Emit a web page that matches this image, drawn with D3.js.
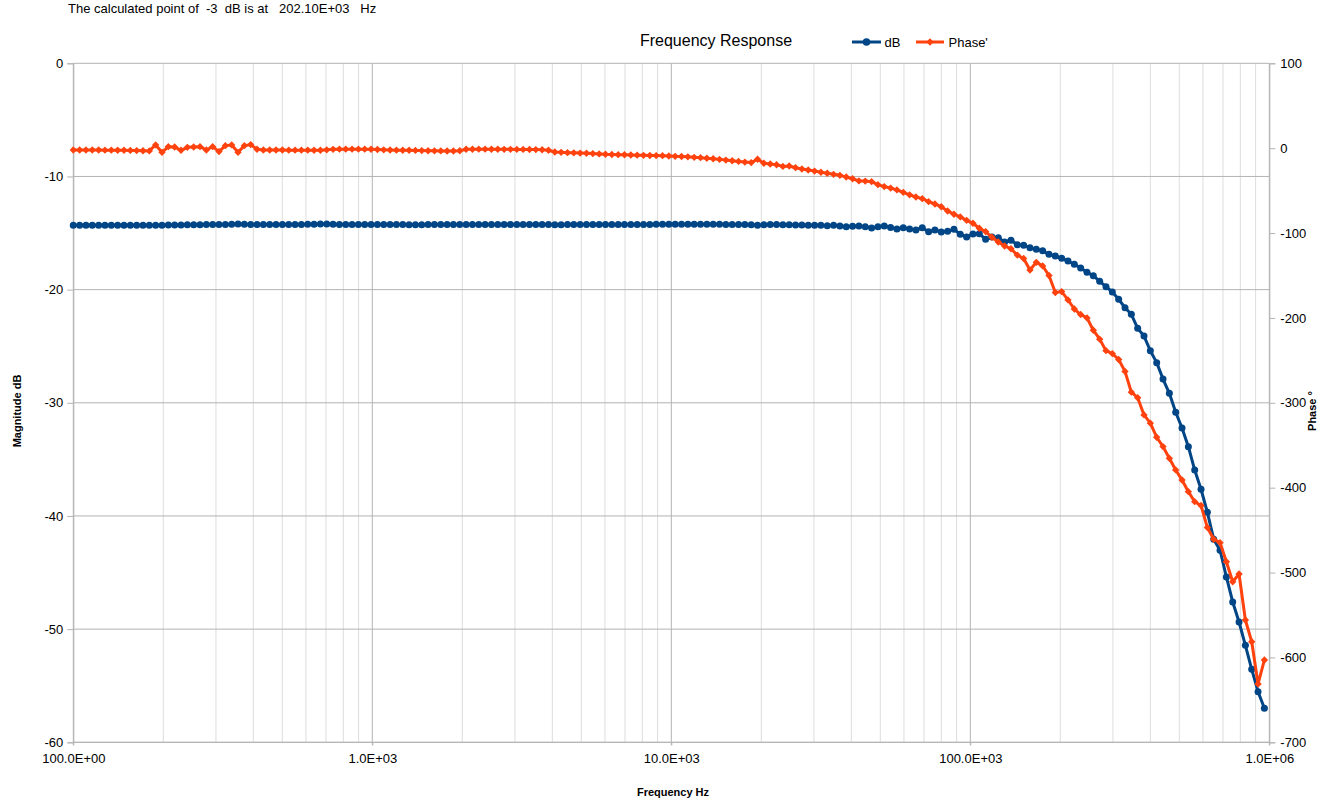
<!DOCTYPE html>
<html><head><meta charset="utf-8">
<script src="https://cdn.jsdelivr.net/npm/d3@7"></script>
<style>
body{margin:0;background:#fff}
svg text{font-family:"Liberation Sans",Arial,sans-serif}
</style>
</head><body>
<svg id="chart" width="1325" height="805"></svg>
<script>
// ---------------- data ----------------
const frequencyHz = [
100,105,110.25,115.76,121.55,127.63,134.01,140.71,147.75,155.13,
162.89,171.03,179.59,188.56,197.99,207.89,218.29,229.2,240.66,252.69,
265.33,278.6,292.53,307.15,322.51,338.64,355.57,373.35,392.02,411.62,
432.19,453.8,476.49,500.32,525.33,551.6,579.18,608.14,638.55,670.48,
704,739.2,776.2,815,855.7,898.5,943.4,990.6,1040.1,1092.1,
1146.7,1204.1,1264.3,1327.5,1393.9,1463.6,1536.7,1613.6,1694.3,1778.9,
1867.9,1961.3,2059.4,2162.4,2270.5,2384,2503.2,2628.4,2759.8,2897.8,
3042.6,3194.8,3354.5,3522.2,3698.4,3883.3,4077.4,4281.3,4495.4,4720.1,
4956.1,5203.9,5464.1,5737.3,6024.2,6325.4,6641.7,6973.8,7322.5,7688.6,
8073,8476.7,8900.5,9345.5,9812.8,10303,10819,11360,11928,12524,
13150,13808,14498,15223,15984,16783,17622,18504,19429,20400,
21420,22491,23616,24797,26036,27338,28705,30140,31647,33230,
34891,36636,38468,40391,42410,44531,46758,49096,51550,54128,
56834,59676,62660,65793,69082,72536,76163,79971,83970,88168,
92577,97205,102066,107169,112527,118154,124062,130265,136778,143617,
150798,158337,166254,174567,183296,192460,202083,212188,222797,233937,
245634,257915,270811,284352,298569,313498,329172,345631,362913,381059,
400111,420117,441123,463179,486338,510655,536187,562997,591147,620704,
651739,684326,718542,754469,792193,831802,873392,917062,962915
];
const magnitudeDb = [
-14.30,-14.30,-14.30,-14.30,-14.30,-14.30,-14.30,-14.30,-14.30,-14.30,
-14.30,-14.30,-14.30,-14.30,-14.30,-14.29,-14.28,-14.28,-14.27,-14.27,
-14.26,-14.25,-14.25,-14.24,-14.24,-14.22,-14.20,-14.22,-14.24,-14.25,
-14.25,-14.25,-14.24,-14.24,-14.25,-14.25,-14.24,-14.23,-14.22,-14.20,
-14.20,-14.22,-14.24,-14.25,-14.25,-14.25,-14.25,-14.25,-14.25,-14.25,
-14.25,-14.25,-14.25,-14.26,-14.26,-14.26,-14.25,-14.25,-14.25,-14.25,
-14.25,-14.25,-14.24,-14.24,-14.24,-14.25,-14.25,-14.25,-14.25,-14.25,
-14.25,-14.25,-14.24,-14.24,-14.25,-14.25,-14.26,-14.26,-14.25,-14.25,
-14.25,-14.25,-14.24,-14.24,-14.24,-14.24,-14.24,-14.24,-14.24,-14.24,
-14.24,-14.24,-14.23,-14.23,-14.23,-14.23,-14.23,-14.23,-14.23,-14.23,
-14.23,-14.23,-14.23,-14.24,-14.24,-14.24,-14.25,-14.26,-14.30,-14.26,
-14.25,-14.25,-14.26,-14.27,-14.28,-14.28,-14.30,-14.30,-14.32,-14.35,
-14.30,-14.38,-14.45,-14.40,-14.38,-14.45,-14.55,-14.45,-14.38,-14.50,
-14.65,-14.53,-14.64,-14.73,-14.53,-14.88,-14.73,-14.90,-14.85,-14.67,
-15.11,-15.35,-15.08,-15.06,-15.55,-15.35,-15.41,-15.79,-15.64,-16.03,
-16.08,-16.29,-16.44,-16.56,-16.88,-17.03,-17.23,-17.47,-17.76,-18.09,
-18.47,-18.77,-19.26,-19.74,-20.21,-20.85,-21.60,-22.18,-23.42,-24.10,
-25.40,-26.45,-27.90,-29.16,-30.84,-32.23,-33.88,-35.94,-37.64,-39.68,
-42.05,-43.03,-45.39,-47.60,-49.37,-51.43,-53.55,-55.53,-56.99
];
const phaseDeg = [
-2.1,-2.1,-2.1,-2.2,-2.2,-2.3,-2.3,-2.4,-2.5,-2.6,
-2.8,-3.0,-3.2,3.8,-4.9,1.8,1.4,-2.5,1.0,1.4,
1.8,-2.1,1.8,-4.0,3.0,3.8,-4.9,3.0,4.2,-1.3,
-2.1,-2.2,-2.2,-2.2,-2.3,-2.3,-2.3,-2.3,-2.4,-2.4,
-2.0,-1.4,-1.2,-1.2,-1.2,-1.2,-1.2,-1.3,-1.6,-2.0,
-2.2,-2.3,-2.4,-2.5,-2.6,-2.8,-3.0,-3.1,-3.2,-3.3,
-3.3,-3.0,-1.3,-1.3,-1.2,-1.2,-1.3,-1.3,-1.4,-1.4,
-1.5,-1.5,-1.6,-1.7,-1.8,-2.5,-4.5,-4.9,-5.3,-5.5,
-5.8,-6.0,-6.4,-6.8,-7.2,-7.4,-7.6,-7.8,-8.0,-8.2,
-8.4,-8.6,-8.7,-8.8,-9.2,-9.6,-9.8,-10.2,-10.8,-11.2,
-11.9,-12.5,-13.2,-14.0,-14.8,-15.6,-16.4,-17.0,-13.1,-17.8,
-18.6,-19.5,-21.5,-21.0,-23.0,-24.5,-25.7,-27.0,-28.4,-29.5,
-30.8,-32.0,-34.0,-36.0,-38.6,-38.8,-39.5,-43.0,-45.3,-47.0,
-49.2,-52.0,-55.0,-57.5,-59.5,-63.0,-65.8,-69.0,-74.0,-77.8,
-81.0,-85.0,-88.5,-94.3,-98.3,-105.0,-110.5,-115.2,-118.5,-126.0,
-130.0,-143.5,-134.5,-138.7,-150.0,-170.0,-169.0,-178.8,-189.5,-196.0,
-200.0,-214.5,-225.0,-238.6,-242.0,-249.0,-263.0,-287.5,-294.0,-314.3,
-324.0,-340.6,-351.6,-365.4,-379.1,-391.0,-404.7,-416.5,-421.0,-447.0,
-460.8,-464.8,-487.2,-510.8,-501.7,-555.9,-581.5,-631.3,-603.0
];
const xTickValues = [100, 1e3, 1e4, 1e5, 1e6];
const xTickLabels = ["100.0E+00", "1.0E+03", "10.0E+03", "100.0E+03", "1.0E+06"];
const dbTicks = [0, -10, -20, -30, -40, -50, -60];
const phaseTicks = [100, 0, -100, -200, -300, -400, -500, -600, -700];
const minorMultipliers = [2, 3, 4, 5, 6, 7, 8, 9];
const seriesNames = ["dB", "Phase'"];
const headerText = "The calculated point of  -3  dB is at   202.10E+03   Hz";
const titleText = "Frequency Response";

// ---------------- layout ----------------
const L = 73.3, R = 1269.3, T = 63.3, B = 742.3;
const blue = "#004586", orange = "#ff420e";
const gridMajor = "#b3b3b3", gridMinor = "#dddddd";

const svg = d3.select("#chart");
const x = d3.scaleLog().domain([100, 1e6]).range([L, R]);
const yL = d3.scaleLinear().domain([-60, 0]).range([B, T]);
const yR = d3.scaleLinear().domain([-700, 100]).range([B, T]);

const rows = frequencyHz.map((f, i) => ({ f, db: magnitudeDb[i], ph: phaseDeg[i] }));

// minor vertical grid
const minorVals = [];
xTickValues.slice(0, -1).forEach(d => minorMultipliers.forEach(m => minorVals.push(d * m)));
svg.append("g").selectAll("line").data(minorVals).join("line")
  .attr("x1", d => x(d)).attr("x2", d => x(d)).attr("y1", T).attr("y2", B)
  .attr("stroke", gridMinor).attr("stroke-width", 1);

// major vertical grid
svg.append("g").selectAll("line").data(xTickValues).join("line")
  .attr("x1", d => x(d)).attr("x2", d => x(d)).attr("y1", T).attr("y2", B + 3)
  .attr("stroke", gridMajor).attr("stroke-width", 1);

// horizontal grid
svg.append("g").selectAll("line").data(dbTicks).join("line")
  .attr("x1", L).attr("x2", R).attr("y1", d => yL(d)).attr("y2", d => yL(d))
  .attr("stroke", gridMajor).attr("stroke-width", 1);

// left axis
const axL = svg.append("g").attr("transform", `translate(${L},0)`)
  .call(d3.axisLeft(yL).tickValues(dbTicks).tickSize(6).tickPadding(4).tickFormat(d => String(d)));
// right axis
const axR = svg.append("g").attr("transform", `translate(${R},0)`)
  .call(d3.axisRight(yR).tickValues(phaseTicks).tickSize(6).tickPadding(5).tickFormat(d => String(d)));
// bottom axis
const axB = svg.append("g").attr("transform", `translate(0,${B})`)
  .call(d3.axisBottom(x).tickValues(xTickValues).tickSize(3).tickPadding(8)
    .tickFormat((d, i) => xTickLabels[i]));
[axL, axR, axB].forEach(g => {
  g.select(".domain").attr("stroke", gridMajor);
  g.selectAll(".tick line").attr("stroke", gridMajor);
  g.selectAll(".tick text").attr("fill", "#000").style("font-size", "13px")
    .style("font-family", '"Liberation Sans",Arial,sans-serif');
});
axB.select(".domain").remove();
svg.append("line").attr("x1", L).attr("x2", R).attr("y1", B).attr("y2", B).attr("stroke", gridMajor);

// series
const lineDb = d3.line().x(d => x(d.f)).y(d => yL(d.db));
const linePh = d3.line().x(d => x(d.f)).y(d => yR(d.ph));

svg.append("path").datum(rows).attr("d", lineDb)
  .attr("fill", "none").attr("stroke", blue).attr("stroke-width", 3).attr("stroke-linejoin", "round");
svg.append("g").selectAll("circle").data(rows).join("circle")
  .attr("cx", d => x(d.f)).attr("cy", d => yL(d.db)).attr("r", 3.5).attr("fill", blue);

const diamond = d3.symbol().type(d3.symbolSquare).size(27);
svg.append("path").datum(rows).attr("d", linePh)
  .attr("fill", "none").attr("stroke", orange).attr("stroke-width", 3).attr("stroke-linejoin", "round");
svg.append("g").selectAll("path").data(rows).join("path")
  .attr("d", diamond).attr("transform", d => `translate(${x(d.f)},${yR(d.ph)}) rotate(45)`).attr("fill", orange);

// texts
svg.append("text").attr("x", 68).attr("y", 13).attr("xml:space", "preserve")
  .style("white-space", "pre").style("font-size", "13px").attr("fill", "#000").text(headerText);
svg.append("text").attr("x", 716).attr("y", 46).attr("text-anchor", "middle")
  .style("font-size", "16px").attr("fill", "#000").text(titleText);

// legend
const legend = svg.append("g");
legend.append("line").attr("x1", 852).attr("x2", 881).attr("y1", 42).attr("y2", 42)
  .attr("stroke", blue).attr("stroke-width", 3);
legend.append("circle").attr("cx", 866.5).attr("cy", 42).attr("r", 3.8).attr("fill", blue);
legend.append("text").attr("x", 884.5).attr("y", 47).style("font-size", "13px").text(seriesNames[0]);
legend.append("line").attr("x1", 916).attr("x2", 944).attr("y1", 42).attr("y2", 42)
  .attr("stroke", orange).attr("stroke-width", 3);
legend.append("path").attr("d", diamond).attr("transform", "translate(930,42) rotate(45)").attr("fill", orange);
legend.append("text").attr("x", 948.5).attr("y", 47).style("font-size", "13px").text(seriesNames[1]);

// axis titles
svg.append("text").attr("transform", "translate(21,411) rotate(-90)").attr("text-anchor", "middle")
  .style("font-size", "11px").style("font-weight", "bold").text("Magnitude dB");
svg.append("text").attr("transform", "translate(1316,411) rotate(-90)").attr("text-anchor", "middle")
  .style("font-size", "11px").style("font-weight", "bold").text("Phase °");
svg.append("text").attr("x", 673).attr("y", 796).attr("text-anchor", "middle")
  .style("font-size", "11px").style("font-weight", "bold").text("Frequency Hz");
</script>
</body></html>
